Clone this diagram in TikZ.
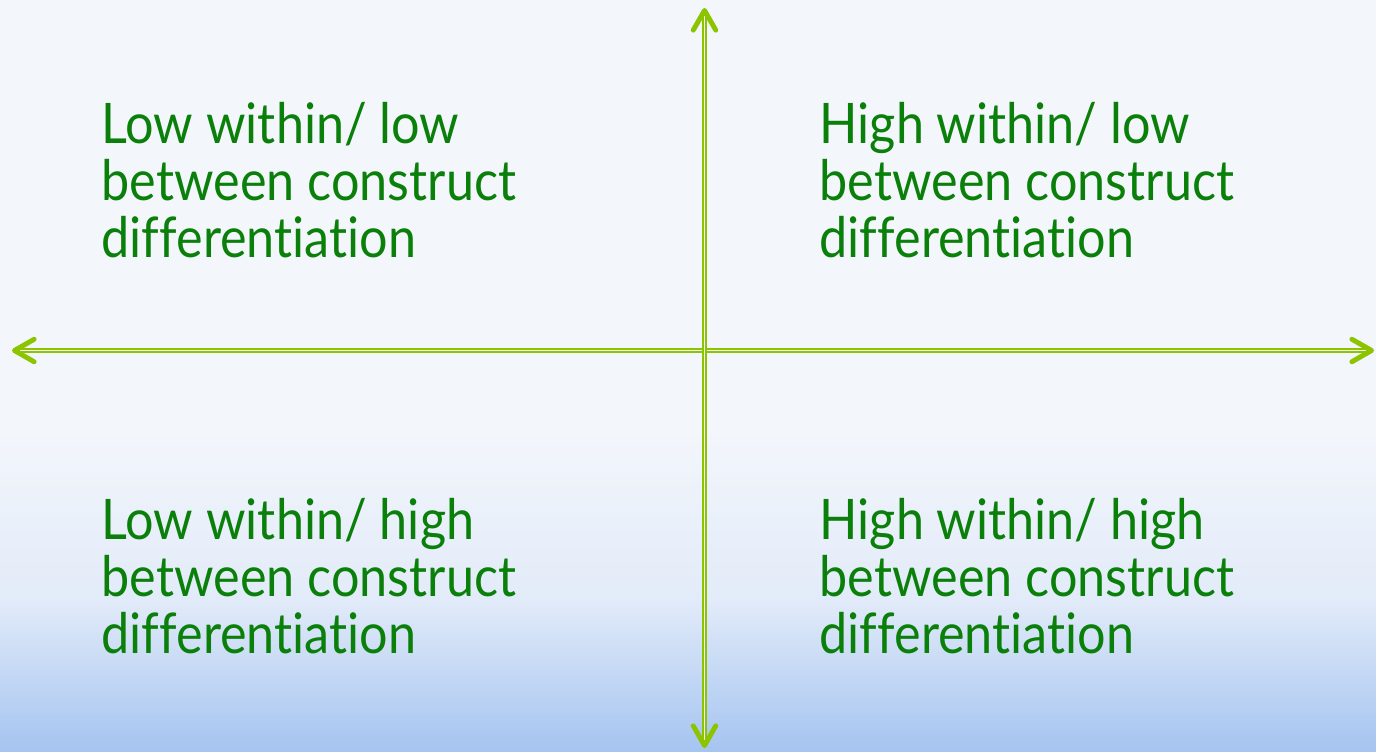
\documentclass[tikz,border=0pt]{standalone}
\usepackage{fontspec}
\setmainfont{Lato}[FakeStretch=0.9, Ligatures=NoCommon]
\usetikzlibrary{arrows.meta}

\definecolor{quadgreen}{RGB}{10,128,10}
\definecolor{axisgreen}{RGB}{140,196,0}
\definecolor{bgtop}{RGB}{243,246,251}
\definecolor{bgmid}{RGB}{226,235,249}
\definecolor{bgbottom}{RGB}{165,196,240}

\tikzset{
  quadrant/.style={anchor=base west, inner sep=0pt, align=left, text=quadgreen,
    font=\fontsize{15.9}{16.2}\selectfont},
  barb/.tip={Straight Barb[length=5.6pt, width=6.4pt, line width=1.4pt, round]},
  axis/.style={draw=axisgreen, line width=0.55pt, double=bgtop, double distance=0.55pt, barb-barb}
}

\begin{document}
\begin{tikzpicture}[x=0.01cm, y=-0.01cm]
	\useasboundingbox (0,0) rectangle (1376,751);
	\fill[bgtop] (0,0) rectangle (1376,430);
	\shade[top color=bgtop, bottom color=bgmid] (0,430) rectangle (1376,600);
	\shade[top color=bgmid, bottom color=bgbottom] (0,599) rectangle (1376,751);
	
	\coordinate (north) at (704.5,8);
	\coordinate (south) at (704.5,748);
	\coordinate (west) at (12,350.5);
	\coordinate (east) at (1374,350.5);
	
	\draw[axis] (west) -- (east);
	\draw[axis] (north) -- (south);
	
	\node[quadrant] (lowlow) at (101,257) {Low within/ low\\between construct\\differentiation};
	\node[quadrant] (highlow) at (819,257) {High within/ low\\between construct\\differentiation};
	\node[quadrant] (lowhigh) at (101,653) {Low within/ high\\between construct\\differentiation};
	\node[quadrant] (highhigh) at (819,653) {High within/ high\\between construct\\differentiation};
\end{tikzpicture}
\end{document}
